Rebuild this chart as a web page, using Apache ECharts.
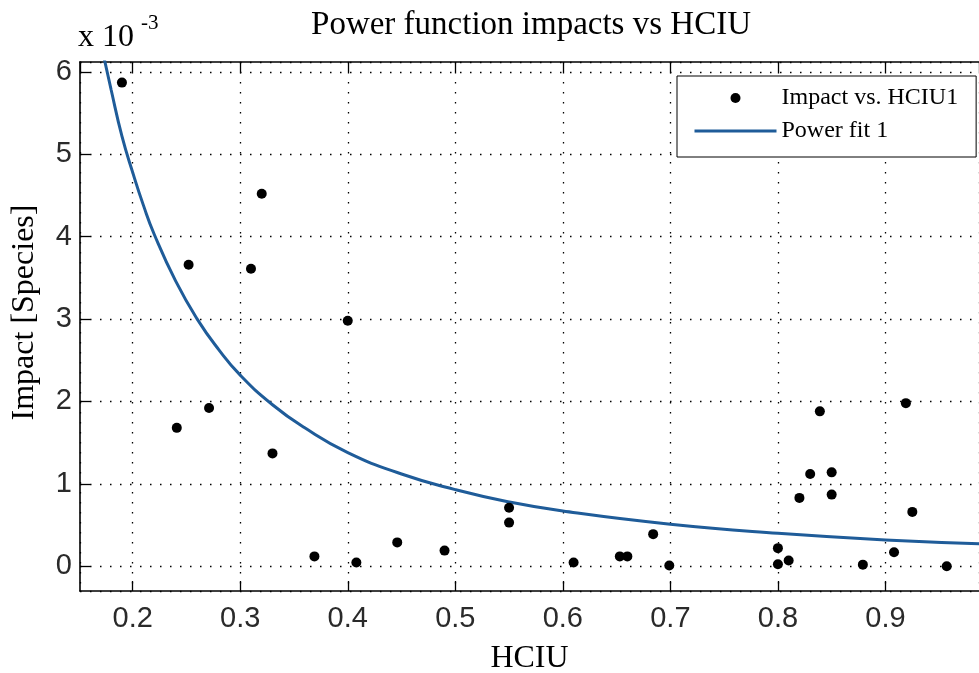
<!DOCTYPE html>
<html>
<head>
<meta charset="utf-8">
<script src="https://cdn.jsdelivr.net/npm/echarts@6/dist/echarts.min.js"></script>
<style>
html,body{margin:0;padding:0;background:#fff;}
#chart{width:979px;height:673px;}
</style>
</head>
<body>
<div id="chart"></div>
<script>
// Scatter data: HCIU vs Impact [Species]
const hciu = [0.190, 0.241, 0.252, 0.271, 0.310, 0.320, 0.330, 0.369, 0.400, 0.408, 0.446, 0.490,
              0.550, 0.550, 0.610, 0.653, 0.660, 0.684, 0.699, 0.800, 0.800, 0.810, 0.820, 0.830,
              0.839, 0.850, 0.850, 0.879, 0.908, 0.919, 0.925, 0.957];
const impact = [5.87e-3, 1.68e-3, 3.66e-3, 1.92e-3, 3.61e-3, 4.52e-3, 1.37e-3, 0.12e-3, 2.98e-3, 0.045e-3, 0.29e-3, 0.19e-3,
                0.71e-3, 0.53e-3, 0.045e-3, 0.12e-3, 0.12e-3, 0.39e-3, 0.01e-3, 0.22e-3, 0.025e-3, 0.07e-3, 0.83e-3, 1.12e-3,
                1.88e-3, 1.14e-3, 0.87e-3, 0.02e-3, 0.17e-3, 1.98e-3, 0.66e-3, 0.0];
// Power fit curve
const fitX = [0.172, 0.18, 0.19, 0.20, 0.21, 0.22, 0.24, 0.26, 0.28, 0.30, 0.33, 0.36, 0.40, 0.45, 0.50, 0.55, 0.60, 0.70, 0.80, 0.90, 1.00];
const fitY = [6.25e-3, 5.78e-3, 5.22e-3, 4.78e-3, 4.38e-3, 4.03e-3, 3.46e-3, 3.00e-3, 2.63e-3, 2.32e-3, 1.96e-3, 1.68e-3,
              1.38e-3, 1.12e-3, 0.93e-3, 0.78e-3, 0.67e-3, 0.51e-3, 0.40e-3, 0.32e-3, 0.27e-3];
const titleText = 'Power function impacts vs HCIU';
const xName = 'HCIU';
const yName = 'Impact [Species]';
const scatterName = 'Impact vs. HCIU1';
const fitName = 'Power fit 1';
const xRange = [0.151, 0.987];
const yRange = [-0.30e-3, 6.12e-3];

const serif = '"Liberation Serif", "Times New Roman", serif';
const sans = '"Liberation Sans", Arial, sans-serif';

const chart = echarts.init(document.getElementById('chart'), null, {renderer: 'canvas'});
const grid = {left: 80, top: 62, right: 0, bottom: 82, containLabel: false, outerBoundsMode: 'none'};
const gridLine = {show: true, lineStyle: {color: '#000', width: 1.3, type: [1.5, 8.5]}};
const axisLine = {show: true, onZero: false, lineStyle: {color: '#000', width: 1.6}};
const tick = {show: true, inside: true, length: 10, lineStyle: {color: '#000', width: 1.3}};

chart.setOption({
  backgroundColor: '#fff',
  animation: false,
  title: {
    text: titleText, left: 531, top: 9, textAlign: 'center', padding: 0,
    textStyle: {fontFamily: serif, fontSize: 33, fontWeight: 'normal', color: '#000'}
  },
  grid: grid,
  legend: {
    orient: 'vertical', left: 677, top: 76, align: 'left',
    padding: [10, 18, 14, 16], itemGap: 9, itemWidth: 82, itemHeight: 10,
    backgroundColor: '#fff', borderColor: '#000', borderWidth: 1, borderRadius: 0,
    textStyle: {fontFamily: serif, fontSize: 24, color: '#000', lineHeight: 24},
    data: [
      {name: scatterName, icon: 'circle', itemStyle: {color: '#000', opacity: 1}},
      {name: fitName, itemStyle: {color: 'rgba(0,0,0,0)', borderWidth: 0, opacity: 0}, lineStyle: {width: 3, color: '#1f5c99'}}
    ]
  },
  graphic: [
    {type: 'text', x: 78, y: 38, style: {text: 'x 10', font: '32px ' + serif, fill: '#000', align: 'left', verticalAlign: 'middle'}},
    {type: 'text', x: 141, y: 23, style: {text: '-3', font: '21px ' + serif, fill: '#000', align: 'left', verticalAlign: 'middle'}}
  ],
  xAxis: [{
    type: 'value', min: xRange[0], max: xRange[1], splitNumber: 8,
    name: xName, nameLocation: 'middle', nameGap: 52,
    nameTextStyle: {fontFamily: serif, fontSize: 32, color: '#000'},
    axisLine: axisLine,
    axisTick: tick,
    axisLabel: {show: true, margin: 13, fontFamily: sans, fontSize: 29, color: '#2a2a2a', showMinLabel: false, showMaxLabel: false,
      formatter: v => String(Math.round(v * 10) / 10)},
    splitLine: gridLine
  }, {
    type: 'value', position: 'top', min: xRange[0], max: xRange[1], splitNumber: 8,
    axisLine: axisLine,
    axisTick: tick,
    axisLabel: {show: false},
    splitLine: {show: false}
  }],
  yAxis: [{
    type: 'value', min: yRange[0], max: yRange[1], splitNumber: 6,
    name: yName, nameLocation: 'middle', nameGap: 39, nameRotate: 90,
    nameTextStyle: {fontFamily: serif, fontSize: 32, color: '#000', padding: [0, 0, 0, 28]},
    axisLine: axisLine,
    axisTick: tick,
    axisLabel: {show: true, margin: 8, fontFamily: sans, fontSize: 29, color: '#2a2a2a', showMinLabel: false, showMaxLabel: false,
      formatter: v => String(Math.round(v * 1000))},
    splitLine: gridLine
  }],
  series: [{
    name: scatterName, type: 'scatter', symbol: 'circle', symbolSize: 10,
    itemStyle: {color: '#000', opacity: 1},
    data: hciu.map((x, i) => [x, impact[i]]),
    z: 3
  }, {
    name: fitName, type: 'line', symbol: 'none', smooth: true, clip: true,
    lineStyle: {color: '#1f5c99', width: 3},
    itemStyle: {color: '#1f5c99'},
    data: fitX.map((x, i) => [x, fitY[i]]),
    z: 2
  }]
});
</script>
</body>
</html>
